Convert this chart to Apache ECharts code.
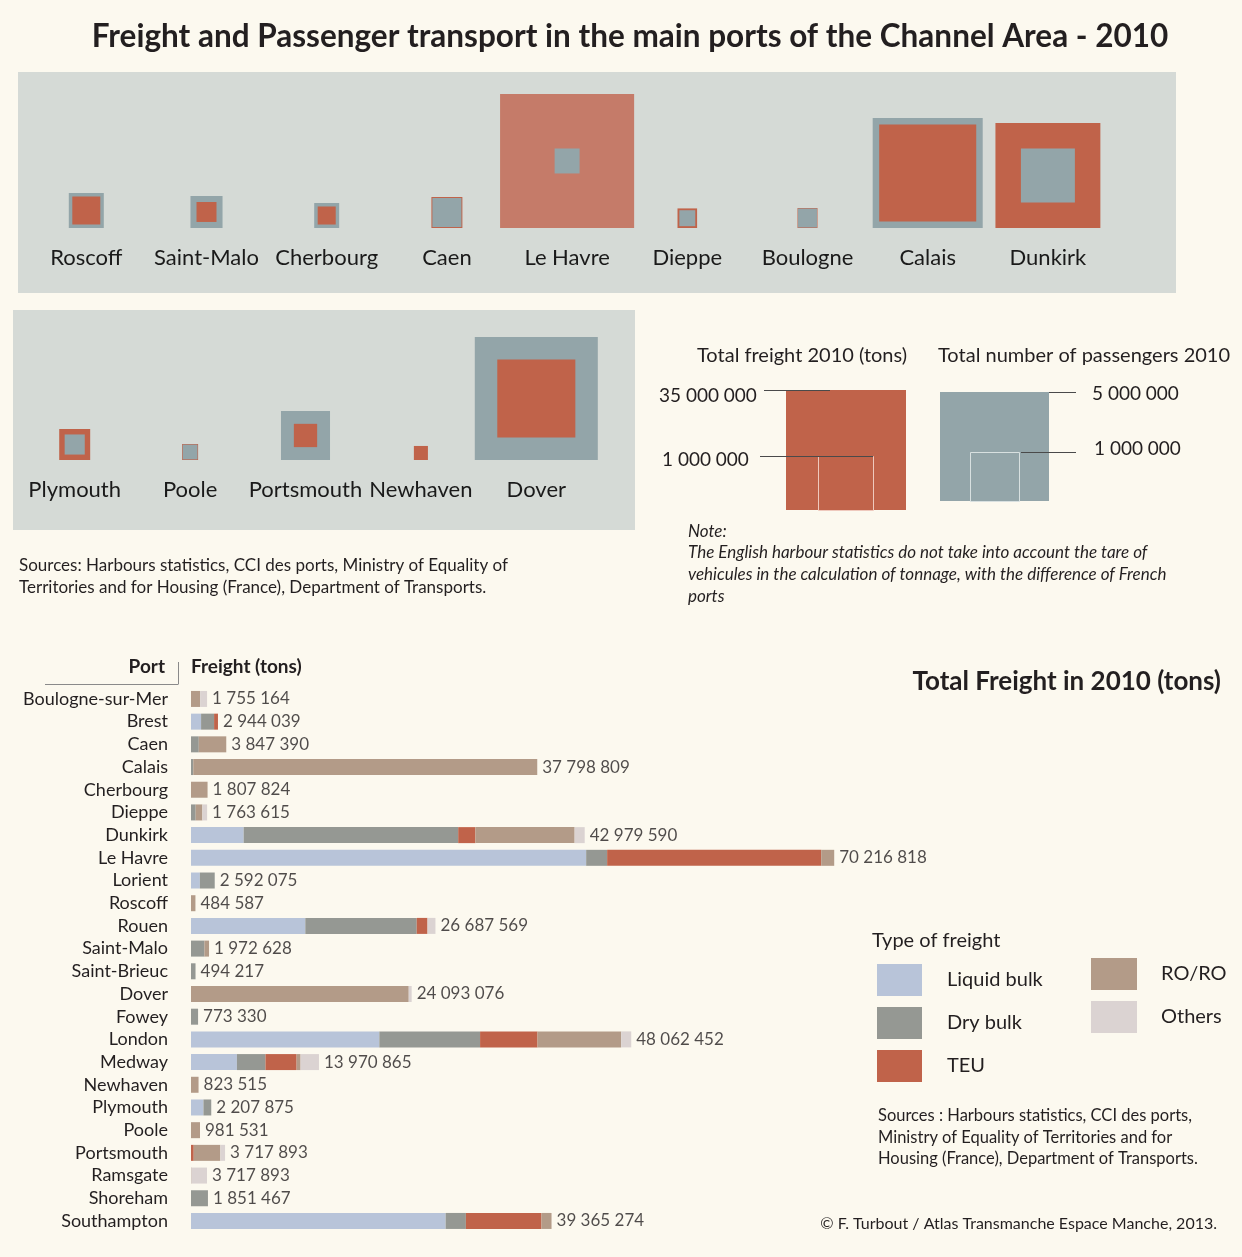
<!DOCTYPE html>
<html><head><meta charset="utf-8">
<script src="https://cdn.jsdelivr.net/npm/echarts/dist/echarts.min.js"></script>
<style>html,body{margin:0;padding:0;background:#fcf9ef}#c{width:1242px;height:1257px}</style>
</head><body><div id="c"></div><script>
// ---------- DATA ----------
// Square panels (millions of tons / millions of passengers), read from square sizes
const frPorts = ['Roscoff','Saint-Malo','Cherbourg','Caen','Le Havre','Dieppe','Boulogne','Calais','Dunkirk'];
const frFreight = [3.06, 1.56, 1.27, 3.75, 70.2, 1.5, 1.56, 36.8, 43.0];
const frPassengers = [1.06, 0.89, 0.54, 0.73, 0.54, 0.22, 0.31, 10.47, 2.52];
const enPorts = ['Plymouth','Poole','Portsmouth','Newhaven','Dover'];
const enFreight = [3.75, 1.0, 2.12, 0.77, 23.8];
const enPassengers = [0.35, 0.19, 2.08, 0, 13.09];

// Bar chart (millions of tons)
const ports = ['Boulogne-sur-Mer','Brest','Caen','Calais','Cherbourg','Dieppe','Dunkirk','Le Havre','Lorient','Roscoff','Rouen','Saint-Malo','Saint-Brieuc','Dover','Fowey','London','Medway','Newhaven','Plymouth','Poole','Portsmouth','Ramsgate','Shoreham','Southampton'];
const liquidBulk = [0, 1.10, 0, 0, 0, 0, 5.75, 43.14, 0.97, 0, 12.48, 0, 0, 0, 0, 20.56, 5.01, 0, 1.36, 0, 0, 0, 0, 27.8];
const dryBulk    = [0, 1.42, 0.85, 0.25, 0, 0.51, 23.42, 2.29, 1.62, 0, 12.16, 1.46, 0.494, 0, 0.773, 11.0, 3.12, 0, 0.85, 0, 0, 0, 1.851, 2.21];
const teu        = [0, 0.424, 0, 0, 0, 0, 1.88, 23.37, 0, 0, 1.18, 0, 0, 0, 0, 6.27, 3.40, 0, 0, 0, 0.3, 0, 0, 8.25];
const roro       = [1.0, 0, 3.0, 37.55, 1.808, 0.73, 10.83, 1.42, 0, 0.485, 0, 0.51, 0, 23.77, 0, 9.13, 0.43, 0.824, 0, 0.98, 2.9, 0.05, 0, 1.1];
const others     = [0.755, 0, 0, 0, 0, 0.52, 1.10, 0, 0, 0, 0.867, 0, 0, 0.32, 0, 1.10, 2.01, 0, 0, 0, 0.518, 1.7, 0, 0];
const totalLabels = ['1 755 164','2 944 039','3 847 390','37 798 809','1 807 824','1 763 615','42 979 590','70 216 818','2 592 075','484 587','26 687 569','1 972 628','494 217','24 093 076','773 330','48 062 452','13 970 865','823 515','2 207 875','981 531','3 717 893','3 717 893','1 851 467','39 365 274'];
const freightTypes = ['Liquid bulk','Dry bulk','TEU','RO/RO','Others'];

// ---------- STYLE ----------
const FONT = 'Lato, "Noto Sans", sans-serif';
const TXT = '#231f20';
const RED = '#c0634a', RED_LIGHT = '#c57b69', BLUEGRAY = '#93a5a9';
const typeColors = ['#b8c4d9','#959893','#c0634a','#b39b88','#dbd3d2'];
const KF = 16.0, KP = 34.0; // square side per sqrt(million)

function squareRender(params, api) {
  const c = api.coord([api.value(0), 0]);
  const f = api.value(1), p = api.value(2);
  const sf = KF * Math.sqrt(f), sp = KP * Math.sqrt(p);
  const big = Math.max(sf, sp);
  const cx = c[0], cy = c[1] - big / 2;
  const redFill = f > 60 ? RED_LIGHT : RED;
  const sq = (s, fill) => ({type:'rect', shape:{x:cx - s/2, y:cy - s/2, width:s, height:s}, style:{fill}});
  const children = [];
  if (sf >= sp) { children.push(sq(sf, redFill)); if (sp > 0) children.push(sq(sp, BLUEGRAY)); }
  else { children.push(sq(sp, BLUEGRAY)); if (sf > 0) children.push(sq(sf, redFill)); }
  return {type:'group', children};
}

function txt(text, x, y, opts) {
  return Object.assign({type:'text', x, y, style:Object.assign({text, fill:TXT, fontSize:17, fontFamily:FONT, align:'left', verticalAlign:'middle'}, opts||{})});
}
function ln(x1,y1,x2,y2,stroke,w){ return {type:'line', shape:{x1,y1,x2,y2}, style:{stroke:stroke||'#4a4a4a', lineWidth:w||1}}; }

const chart = echarts.init(document.getElementById('c'));
const sums = ports.map((p,i)=> liquidBulk[i]+dryBulk[i]+teu[i]+roro[i]+others[i]);

const barSeries = [liquidBulk, dryBulk, teu, roro, others].map((arr, k) => ({
  name: freightTypes[k], type:'bar', stack:'freight', barWidth:16,
  xAxisIndex:2, yAxisIndex:2, data:arr, itemStyle:{color:typeColors[k]}, silent:true
}));

const catLabel = {fontSize:22, color:'#1a1a1a', fontFamily:FONT, margin:19, interval:0, hideOverlap:false};

chart.setOption({
  animation:false,
  backgroundColor:'#fcf9ef',
  grid:[
    {left:26.2, top:80, width:1081.8, height:148, outerBoundsMode:'none'},
    {left:17, top:320, width:577, height:140, outerBoundsMode:'none'},
    {left:191, top:687.6, width:732.8, height:544.7, outerBoundsMode:'none'}
  ],
  xAxis:[
    {gridIndex:0, type:'category', data:frPorts, axisLine:{show:false}, axisTick:{show:false}, axisLabel:catLabel},
    {gridIndex:1, type:'category', data:enPorts, axisLine:{show:false}, axisTick:{show:false}, axisLabel:catLabel},
    {gridIndex:2, type:'value', min:0, max:80, show:false}
  ],
  yAxis:[
    {gridIndex:0, type:'value', min:0, max:1, show:false},
    {gridIndex:1, type:'value', min:0, max:1, show:false},
    {gridIndex:2, type:'category', data:ports, inverse:true, axisLine:{show:false}, axisTick:{show:false},
     axisLabel:{fontSize:18, color:TXT, fontFamily:FONT, margin:23, interval:0, hideOverlap:false}}
  ],
  legend:[
    {data:freightTypes.slice(0,3), orient:'vertical', left:877, top:964, padding:0, itemWidth:45, itemHeight:32, itemGap:11,
     icon:'rect', selectedMode:false, textStyle:{fontSize:20, color:TXT, fontFamily:FONT, padding:[0,0,0,20]}},
    {data:freightTypes.slice(3), orient:'vertical', left:1091, top:958, padding:0, itemWidth:46, itemHeight:32, itemGap:11,
     icon:'rect', selectedMode:false, textStyle:{fontSize:20, color:TXT, fontFamily:FONT, padding:[0,0,0,19]}}
  ],
  series:[
    {type:'custom', xAxisIndex:0, yAxisIndex:0, renderItem:squareRender, silent:true,
     data:frPorts.map((p,i)=>[i, frFreight[i], frPassengers[i]]), encode:{x:0}},
    {type:'custom', xAxisIndex:1, yAxisIndex:1, renderItem:squareRender, silent:true,
     data:enPorts.map((p,i)=>[i, enFreight[i], enPassengers[i]]), encode:{x:0}},
    ...barSeries,
    {type:'scatter', xAxisIndex:2, yAxisIndex:2, symbolSize:0, silent:true,
     data:ports.map((p,i)=>[sums[i], p]),
     label:{show:true, position:'right', distance:5, fontSize:17, color:TXT, fontFamily:FONT,
            formatter:(prm)=> totalLabels[prm.dataIndex]}}
  ],
  graphic:[
    {type:'rect', shape:{x:18, y:72, width:1158, height:221}, style:{fill:'#d5dad6'}, z:-10},
    {type:'rect', shape:{x:13, y:310, width:622, height:220}, style:{fill:'#d5dad6'}, z:-10},
    txt('Freight and Passenger transport in the main ports of the Channel Area - 2010', 630, 37, {fontSize:31.5, fontWeight:'bold', align:'center'}),
    // size key
    txt('Total freight 2010 (tons)', 697, 356, {fontSize:20}),
    txt('Total number of passengers 2010', 938, 356, {fontSize:20}),
    {type:'rect', shape:{x:786, y:390, width:120, height:120}, style:{fill:RED}},
    {type:'rect', shape:{x:818.5, y:456.5, width:55, height:54}, style:{fill:'none', stroke:'#efc9bd', lineWidth:1}},
    ln(764, 390.5, 830, 390.5),
    ln(760, 456.5, 873, 456.5),
    txt('35 000 000', 659, 396, {fontSize:19}),
    txt('1 000 000', 662, 460, {fontSize:19}),
    {type:'rect', shape:{x:940, y:392, width:109, height:109}, style:{fill:BLUEGRAY}},
    {type:'rect', shape:{x:970.5, y:452.5, width:49, height:49}, style:{fill:'none', stroke:'#d8e0e0', lineWidth:1}},
    ln(1049, 392.5, 1076, 392.5),
    ln(1021, 452.5, 1076, 452.5),
    txt('5 000 000', 1092, 394, {fontSize:19}),
    txt('1 000 000', 1094, 449, {fontSize:19}),
    txt('Note:', 688, 532, {fontSize:17, fontStyle:'italic'}),
    txt('The English harbour statistics do not take into account the tare of', 688, 553, {fontSize:17, fontStyle:'italic'}),
    txt('vehicules in the calculation of tonnage, with the difference of French', 688, 575, {fontSize:17, fontStyle:'italic'}),
    txt('ports', 688, 597, {fontSize:17, fontStyle:'italic'}),
    txt('Sources: Harbours statistics, CCI des ports, Ministry of Equality of', 19, 566, {fontSize:17}),
    txt('Territories and for Housing (France), Department of Transports.', 19, 588, {fontSize:17}),
    // bar chart header
    txt('Port', 165, 667, {fontSize:19, fontWeight:'bold', align:'right'}),
    txt('Freight (tons)', 191, 667, {fontSize:19, fontWeight:'bold'}),
    ln(45, 684.5, 178, 684.5, '#8a8a8a'),
    ln(178.5, 662, 178.5, 684.5, '#8a8a8a'),
    txt('Total Freight in 2010 (tons)', 1221, 682, {fontSize:26, fontWeight:'bold', align:'right'}),
    txt('Type of freight', 872, 941, {fontSize:20}),
    txt('Sources : Harbours statistics, CCI des ports,', 878, 1116, {fontSize:16.5}),
    txt('Ministry of Equality of Territories and for', 878, 1138, {fontSize:16.5}),
    txt('Housing (France), Department of Transports.', 878, 1159, {fontSize:16.5}),
    txt('© F. Turbout / Atlas Transmanche Espace Manche, 2013.', 1217, 1224, {fontSize:16, align:'right'})
  ]
});
</script></body></html>
